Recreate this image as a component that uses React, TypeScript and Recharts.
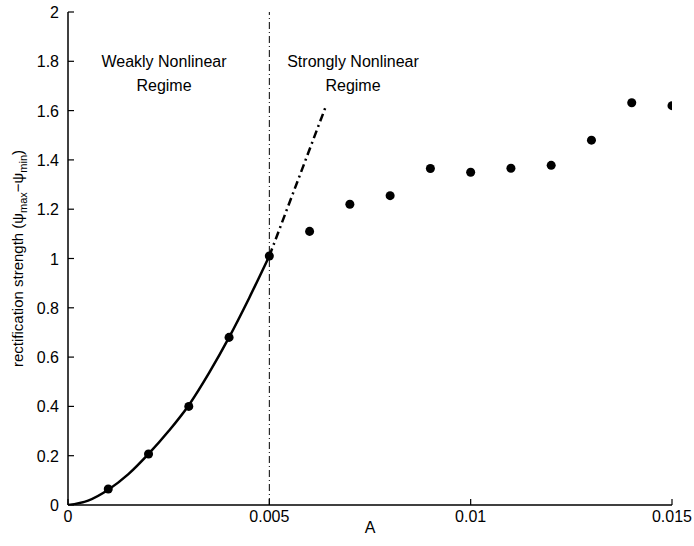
import {
  ComposedChart,
  Line,
  Scatter,
  XAxis,
  YAxis,
  ReferenceLine,
  Label,
} from "recharts";

// measured points (A, rectification strength)
const measuredA = [0.001, 0.002, 0.003, 0.004, 0.005, 0.006, 0.007, 0.008, 0.009, 0.01, 0.011, 0.012, 0.013, 0.014, 0.015];
const measuredS = [0.065, 0.207, 0.4, 0.68, 1.01, 1.11, 1.22, 1.255, 1.365, 1.35, 1.366, 1.378, 1.48, 1.632, 1.62];

// weakly nonlinear fit curve
const fitA = [0, 0.0005, 0.001, 0.0015, 0.002, 0.0025, 0.003, 0.0035, 0.004, 0.0045, 0.005];
const fitS = [0, 0.018, 0.062, 0.125, 0.207, 0.3, 0.405, 0.535, 0.68, 0.84, 1.01];

// extrapolation of the fit (dash-dot)
const extA = [0.005, 0.0064];
const extS = [1.01, 1.616];

const xTicks = [0, 0.005, 0.01, 0.015];
const yTicks = [0, 0.2, 0.4, 0.6, 0.8, 1, 1.2, 1.4, 1.6, 1.8, 2];

const measured = measuredA.map((a, i) => ({ a, s: measuredS[i] }));
const fit = fitA.map((a, i) => ({ a, s: fitS[i] }));
const ext = extA.map((a, i) => ({ a, s: extS[i] }));

const FONT = "'Liberation Sans', Arial, Helvetica, sans-serif";

function XTick(props: any) {
  const { x, y, payload } = props;
  return (
    <g>
      <line x1={x} y1={y} x2={x} y2={y - 6} stroke="#000" strokeWidth={1.2} />
      <text x={x} y={y + 17} textAnchor="middle" fontFamily={FONT} fontSize={16} fill="#000">
        {String(payload.value)}
      </text>
    </g>
  );
}

function YTick(props: any) {
  const { x, y, payload } = props;
  return (
    <g>
      <line x1={x} y1={y} x2={x + 6} y2={y} stroke="#000" strokeWidth={1.2} />
      <text x={x - 9} y={y + 6} textAnchor="end" fontFamily={FONT} fontSize={16} fill="#000">
        {String(payload.value)}
      </text>
    </g>
  );
}

function YLabel(props: any) {
  const vb = props.viewBox || {};
  const cx = 23;
  const cy = (vb.y ?? 12) + (vb.height ?? 493) / 2;
  return (
    <text
      x={cx}
      y={cy}
      transform={`rotate(-90 ${cx} ${cy})`}
      textAnchor="middle"
      fontFamily={FONT}
      fontSize={15}
      fill="#000"
    >
      rectification strength (ψ
      <tspan fontSize={11} dy={4}>max</tspan>
      <tspan dy={-4}>−ψ</tspan>
      <tspan fontSize={11} dy={4}>min</tspan>
      <tspan dy={-4}>)</tspan>
    </text>
  );
}

const textStyle: any = {
  position: "absolute",
  fontFamily: FONT,
  fontSize: 16,
  color: "#000",
  textAlign: "center",
  lineHeight: "24px",
  whiteSpace: "nowrap",
};

export default function App() {
  return (
    <div style={{ position: "absolute", left: 0, top: 0, width: 694, height: 546, background: "#fff" }}>
      <ComposedChart width={694} height={546} margin={{ top: 12, right: 22, bottom: 11, left: 20 }}>
        <XAxis
          type="number"
          dataKey="a"
          domain={[0, 0.015]}
          ticks={xTicks}
          tick={<XTick />}
          tickLine={false}
          tickSize={0}
          tickMargin={0}
          height={30}
          axisLine={{ stroke: "#000", strokeWidth: 1.5 }}
          allowDataOverflow
        >
          <Label value="A" position="insideBottom" offset={2} fontFamily={FONT} fontSize={16} fill="#000" />
        </XAxis>
        <YAxis
          type="number"
          dataKey="s"
          domain={[0, 2]}
          ticks={yTicks}
          tick={<YTick />}
          tickLine={false}
          tickSize={0}
          tickMargin={0}
          width={48}
          axisLine={{ stroke: "#000", strokeWidth: 1.5 }}
          allowDataOverflow
        >
          <Label content={<YLabel />} />
        </YAxis>
        <ReferenceLine x={0.005} stroke="#000" strokeWidth={1} strokeDasharray="7 3 1 3" />
        <Line
          data={fit}
          dataKey="s"
          type="monotone"
          stroke="#000"
          strokeWidth={2.5}
          dot={false}
          isAnimationActive={false}
        />
        <Line
          data={ext}
          dataKey="s"
          type="linear"
          stroke="#000"
          strokeWidth={2.5}
          strokeDasharray="8 4 2 4"
          dot={false}
          isAnimationActive={false}
        />
        <Scatter data={measured} dataKey="s" fill="#000" shape="circle" isAnimationActive={false} />
      </ComposedChart>
      <div style={{ ...textStyle, left: 84, top: 50, width: 160 }}>
        Weakly Nonlinear
        <br />
        Regime
      </div>
      <div style={{ ...textStyle, left: 273, top: 50, width: 160 }}>
        Strongly Nonlinear
        <br />
        Regime
      </div>
    </div>
  );
}
